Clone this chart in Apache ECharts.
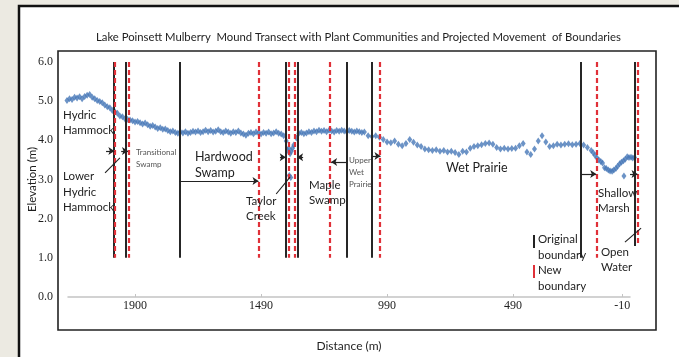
<!DOCTYPE html>
<html><head><meta charset="utf-8">
<script src="https://cdn.jsdelivr.net/npm/echarts@6/dist/echarts.min.js"></script>
<style>html,body{margin:0;padding:0;background:#ECEAE2;overflow:hidden}#c{width:679px;height:357px}</style>
</head><body><div id="c"></div>
<script>
// ---- data ----
const surveyDistance = [
2260,2250,2240,2230,2220,2210,2200,2190,2180,2170,2160,2150,2140,2130,2120,2110,2100,2090,2080,2070,
2060,2050,2040,2030,2020,2010,2000,1990,1980,1970,1960,1950,1940,1930,1920,1910,1900,1890,1880,1870,
1860,1850,1840,1830,1820,1810,1800,1790,1780,1770,1760,1750,1740,1730,1720,1710,1700,1690,1680,1670,
1660,1650,1640,1630,1620,1610,1600,1590,1580,1570,1560,1550,1540,1530,1520,1510,1500,1490,1480,1470,
1460,1450,1440,1430,1420,1410,1400,1390,1380,1370,1360,1350,1340,1330,1320,1310,1300,1290,1280,1270,
1260,1250,1240,1230,1220,1210,1200,1190,1180,1170,1160,1150,1140,1130,1120,1110,1100,1090,1080,
1385,1375,1365,1378,1372,
1065,1050,1035,1020,1005,990,975,960,945,930,915,900,885,870,855,840,825,810,795,780,
765,750,735,720,705,690,675,660,645,630,615,600,585,570,555,540,525,510,495,480,
465,450,435,420,405,390,375,360,345,330,315,300,285,270,255,240,225,210,195,180,
165,150,135,120,105,90,75,60,45,30,15,
172,157,142,127,112,97,82,67,52,37,22,8,
50
];
const surveyElevation = [
5.02,5.06,5.04,5.10,5.08,5.11,5.06,5.12,5.15,5.17,5.10,5.06,5.02,4.99,4.96,4.90,4.86,4.83,4.76,4.73,
4.69,4.62,4.60,4.55,4.54,4.52,4.50,4.47,4.48,4.45,4.42,4.44,4.40,4.36,4.38,4.34,4.30,4.32,4.28,4.29,
4.25,4.22,4.24,4.20,4.18,4.21,4.19,4.22,4.18,4.20,4.23,4.21,4.24,4.20,4.22,4.26,4.22,4.25,4.21,4.23,
4.27,4.22,4.20,4.24,4.21,4.18,4.22,4.20,4.24,4.19,4.16,4.13,4.18,4.20,4.17,4.21,4.19,4.16,4.20,4.18,
4.21,4.17,4.19,4.22,4.18,4.16,4.12,3.98,3.80,3.72,3.88,4.06,4.18,4.20,4.17,4.19,4.22,4.20,4.24,4.22,
4.26,4.23,4.25,4.22,4.26,4.24,4.21,4.25,4.23,4.26,4.24,4.22,4.25,4.23,4.21,4.24,4.22,4.20,4.21,
3.75,3.66,3.80,3.10,3.05,
4.12,4.10,4.12,4.08,4.02,3.96,3.94,3.98,3.90,3.86,3.92,4.02,3.95,3.88,3.84,3.78,3.76,3.74,3.76,3.72,
3.74,3.70,3.72,3.69,3.64,3.72,3.70,3.80,3.84,3.86,3.89,3.92,3.93,3.90,3.82,3.78,3.80,3.78,3.79,3.80,
3.86,3.92,3.70,3.64,3.78,3.98,4.12,3.96,3.84,3.86,3.90,3.88,3.90,3.91,3.89,3.90,3.92,3.88,3.82,3.74,
3.62,3.50,3.42,3.28,3.22,3.24,3.34,3.44,3.52,3.56,3.55,
3.68,3.55,3.46,3.30,3.24,3.21,3.28,3.40,3.48,3.58,3.57,3.56,
3.09
];
// vertical boundary lines (distance, m) and their lower ends (elevation, m)
const originalBoundary = [2076, 2026, 1814, 1392, 1344, 1149, 1052, 220, 6];
const originalBottom   = [1, 1, 1, 1, 1, 1, 1, 1, 1.3];
const newBoundary      = [2069, 2014, 1498, 1381, 1358, 1218, 1018, 158, -3];
const newBottom        = [1, 1, 1, 1, 1, 1, 1, 1, 1.3];
const boundaryTop = 6.0;
// boundary-movement arrows: from distance, to distance, at elevation
const arrowFrom = [2105, 2045, 1814, 1415, 1323, 1149, 1052, 220, 26];
const arrowTo   = [2072, 2018, 1500, 1392, 1347, 1212, 1016, 160, -4];
const arrowElev = [3.73, 3.73, 2.96, 3.57, 3.57, 3.45, 3.60, 3.14, 3.14];
// label leader lines: [dist1, elev1, dist2, elev2]
const leaderLines = [[2109, 3.17, 2050, 3.55], [1430, 2.63, 1375, 3.06], [46, 1.40, -18, 1.76]];
// x-axis tick labels and where they sit on the distance scale
const tickLabels = ['1900', '1490', '990', '490', '-10'];
const tickPositions = [1990, 1490, 990, 490, 57];

// ---- chart ----
const chart = echarts.init(document.getElementById('c'), null, {renderer: 'canvas'});
const points = surveyDistance.map((d, i) => [d, surveyElevation[i]]);
const origLines = originalBoundary.map((d, i) => ({coords: [[d, boundaryTop], [d, originalBottom[i]]]}));
const newLines = newBoundary.map((d, i) => ({coords: [[d, boundaryTop], [d, newBottom[i]]]}));
const arrows = arrowFrom.map((d, i) => ({coords: [[d, arrowElev[i]], [arrowTo[i], arrowElev[i]]]}));
const leaders = leaderLines.map(l => ({coords: [[l[0], l[1]], [l[2], l[3]]]}));

const SANS = 'Lato, "Open Sans", sans-serif';
const SERIF = '"Liberation Serif", "DejaVu Serif", serif';
const TXT = '#1e1e1e';
function label(x, y, text, size, lh, color) {
  return {type: 'text', x: x, y: y, z: 5, style: {text: text, fontFamily: SANS, fontSize: size, lineHeight: lh, fill: color || TXT, textVerticalAlign: 'top', textAlign: 'left'}};
}

chart.setOption({
  backgroundColor: '#ECEAE2',
  animation: false,
  title: {
    text: 'Lake Poinsett Mulberry  Mound Transect with Plant Communities and Projected Movement  of Boundaries',
    left: 96, top: 32, padding: 0,
    textStyle: {fontFamily: SANS, fontSize: 11.3, fontWeight: 'normal', color: TXT}
  },
  grid: {left: 68, right: 49, top: 62, bottom: 60},
  xAxis: {
    type: 'value', inverse: true, min: 26, max: 2256,
    axisLine: {show: true, lineStyle: {color: '#C4C4C4', width: 1.5}},
    axisTick: {show: true, customValues: tickPositions, inside: true, length: 3, lineStyle: {color: '#C4C4C4'}},
    axisLabel: {
      customValues: tickPositions,
      formatter: function (v) {
        let best = 0;
        tickPositions.forEach((p, i) => { if (Math.abs(p - v) < Math.abs(tickPositions[best] - v)) best = i; });
        return tickLabels[best];
      },
      fontFamily: SERIF, fontSize: 12, color: TXT, margin: 3
    },
    splitLine: {show: false},
    name: 'Distance (m)', nameLocation: 'middle', nameGap: 43, nameMoveOverlap: false,
    nameTextStyle: {fontFamily: SANS, fontSize: 12, color: TXT}
  },
  yAxis: {
    type: 'value', min: 0, max: 6, interval: 1,
    axisLine: {show: false}, axisTick: {show: false}, splitLine: {show: false},
    axisLabel: {formatter: v => v.toFixed(1), fontFamily: SERIF, fontSize: 12, color: TXT, margin: 15},
    name: 'Elevation (m)', nameLocation: 'middle', nameGap: 30, nameMoveOverlap: false,
    nameTextStyle: {fontFamily: SANS, fontSize: 11.5, color: TXT}
  },
  graphic: [
    {type: 'rect', z: -100, shape: {x: 19, y: 6, width: 700, height: 400}, style: {fill: '#ffffff', stroke: '#111111', lineWidth: 2.5}},
    {type: 'rect', z: -90, shape: {x: 58, y: 51, width: 598, height: 279}, style: {fill: 'none', stroke: '#222222', lineWidth: 1.6}},
    label(63, 107.5, 'Hydric\nHammock', 11.5, 15),
    label(63, 169, 'Lower\nHydric\nHammock', 11.5, 15.5),
    label(136, 146, 'Transitional\nSwamp', 8, 12, '#555'),
    label(195, 149, 'Hardwood\nSwamp', 12.5, 16),
    label(246, 193.5, 'Taylor\nCreek', 11.5, 15),
    label(309, 177.5, 'Maple\nSwamp', 11.5, 15),
    label(349, 154, 'Upper\nWet\nPrairie', 8, 12, '#555'),
    label(446, 160, 'Wet Prairie', 12.5, 16),
    label(538, 231, 'Original\nboundary', 11.5, 16),
    label(538, 262, 'New\nboundary', 11.5, 16),
    label(598, 185.5, 'Shallow\nMarsh', 11.5, 15),
    label(601, 244.5, 'Open\nWater', 11.5, 15),
    {type: 'rect', z: 5, shape: {x: 533, y: 235, width: 2, height: 13}, style: {fill: '#222'}},
    {type: 'rect', z: 5, shape: {x: 533, y: 265, width: 2, height: 13}, style: {fill: '#E03038'}}
  ],
  series: [
    {
      type: 'scatter', data: points, clip: false, z: 3,
      symbol: 'diamond', symbolSize: [5, 7],
      itemStyle: {color: '#4778B8'}
    },
    {
      type: 'lines', coordinateSystem: 'cartesian2d', clip: false, z: 4, silent: true,
      data: origLines, symbol: 'none',
      lineStyle: {color: '#262626', width: 2, opacity: 1}
    },
    {
      type: 'lines', coordinateSystem: 'cartesian2d', clip: false, z: 4, silent: true,
      data: newLines, symbol: 'none',
      lineStyle: {color: '#E03038', width: 2.2, type: [5, 3], opacity: 1}
    },
    {
      type: 'lines', coordinateSystem: 'cartesian2d', clip: false, z: 4, silent: true,
      data: arrows, symbol: ['none', 'arrow'], symbolSize: 6,
      lineStyle: {color: '#222', width: 1.2, opacity: 1}
    },
    {
      type: 'lines', coordinateSystem: 'cartesian2d', clip: false, z: 4, silent: true,
      data: leaders, symbol: 'none',
      lineStyle: {color: '#222', width: 1.1, opacity: 1}
    }
  ]
});
</script>
</body></html>
